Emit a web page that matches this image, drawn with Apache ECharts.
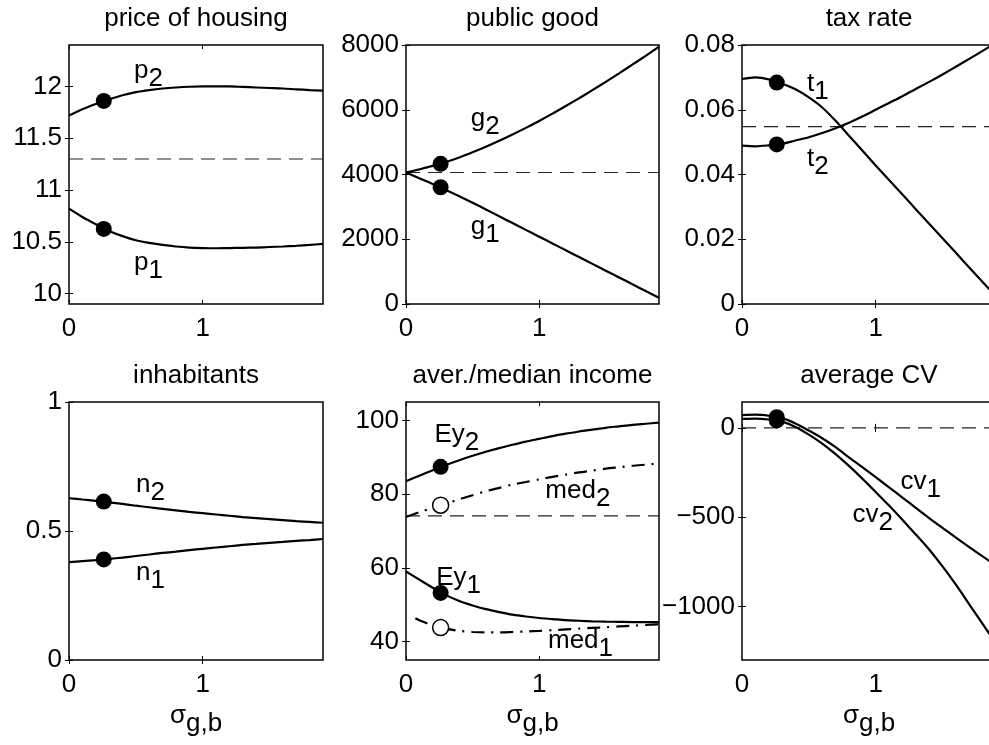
<!DOCTYPE html>
<html>
<head>
<meta charset="utf-8">
<script src="https://cdn.jsdelivr.net/npm/echarts@6/dist/echarts.min.js"></script>
<style>
  html, body { margin: 0; padding: 0; background: #fff; }
  #chart { width: 989px; height: 745px; }
</style>
</head>
<body>
<div id="chart"></div>
<script>
// Sampling points of sigma_{g,b}
const sigma = [0, 0.1, 0.2, 0.3, 0.4, 0.5, 0.6, 0.7, 0.8, 0.9, 1.0, 1.1, 1.2, 1.3, 1.4, 1.5, 1.6, 1.7, 1.8, 1.9];
const sigmaMed1 = [0.07, 0.1, 0.2, 0.3, 0.4, 0.5, 0.6, 0.7, 0.8, 0.9, 1.0, 1.1, 1.2, 1.3, 1.4, 1.5, 1.6, 1.7, 1.8, 1.9];
const sigmaDot = 0.26;

// price of housing
const p2 = [11.72, 11.78, 11.83, 11.875, 11.915, 11.945, 11.965, 11.98, 11.99, 11.997, 12.0, 12.0, 12.0, 11.995, 11.99, 11.985, 11.98, 11.972, 11.965, 11.96];
const p1 = [10.82, 10.74, 10.67, 10.605, 10.555, 10.515, 10.49, 10.47, 10.455, 10.445, 10.44, 10.438, 10.44, 10.442, 10.445, 10.45, 10.455, 10.462, 10.47, 10.48];
const pDots = [11.86, 10.625];
const pRef = 11.3;

// public good
const g2 = [4060, 4160, 4265, 4385, 4525, 4685, 4855, 5040, 5235, 5440, 5655, 5880, 6115, 6355, 6605, 6860, 7125, 7395, 7665, 7945];
const g1 = [4060, 3885, 3710, 3525, 3330, 3127, 2920, 2710, 2500, 2290, 2080, 1870, 1660, 1450, 1240, 1030, 820, 610, 400, 190];
const gDots = [4330, 3607];
const gRef = 4060;

// tax rate
const t1 = [0.0695, 0.0700, 0.0694, 0.0680, 0.0663, 0.0638, 0.0607, 0.0566, 0.0520, 0.0474, 0.0428, 0.0383, 0.0338, 0.0293, 0.0248, 0.0203, 0.0158, 0.0113, 0.0068, 0.0024];
const t2 = [0.0489, 0.0487, 0.0490, 0.0495, 0.0505, 0.0515, 0.0528, 0.0543, 0.0560, 0.0579, 0.0600, 0.0621, 0.0642, 0.0664, 0.0686, 0.0709, 0.0733, 0.0757, 0.0782, 0.0807];
const tDots = [0.0684, 0.0493];
const tRef = 0.0548;

// inhabitants
const n2 = [0.627, 0.622, 0.617, 0.611, 0.605, 0.598, 0.592, 0.586, 0.580, 0.574, 0.569, 0.564, 0.559, 0.554, 0.550, 0.546, 0.542, 0.538, 0.535, 0.532];
const n1 = [0.379, 0.383, 0.387, 0.392, 0.397, 0.403, 0.409, 0.415, 0.420, 0.426, 0.431, 0.436, 0.441, 0.446, 0.450, 0.454, 0.458, 0.462, 0.465, 0.469];
const nDots = [0.614, 0.390];

// average / median income
const ey2 = [83.5, 85.0, 86.5, 87.9, 89.2, 90.4, 91.5, 92.5, 93.4, 94.25, 95.0, 95.75, 96.4, 97.0, 97.5, 98.0, 98.4, 98.8, 99.1, 99.4];
const ey1 = [59.0, 56.8, 54.6, 52.6, 51.0, 49.8, 48.8, 48.0, 47.3, 46.8, 46.4, 46.1, 45.8, 45.65, 45.5, 45.4, 45.35, 45.3, 45.3, 45.3];
const med2 = [73.8, 75.1, 76.3, 77.4, 78.6, 79.7, 80.8, 81.7, 82.6, 83.3, 84.0, 84.7, 85.3, 85.9, 86.4, 86.9, 87.3, 87.7, 88.0, 88.3];
const med1 = [46.3, 45.8, 44.4, 43.5, 42.9, 42.6, 42.5, 42.5, 42.6, 42.75, 42.9, 43.1, 43.3, 43.5, 43.7, 43.9, 44.1, 44.3, 44.5, 44.7];
const eyDots = [87.4, 53.2];
const medDots = [77.0, 43.8];
const incomeRef = 74.1;

// average CV
const cv1 = [72, 74, 68, 55, 25, -15, -58, -108, -165, -220, -276, -333, -390, -448, -505, -560, -615, -668, -720, -770];
const cv2 = [50, 52, 47, 35, 5, -38, -88, -147, -213, -284, -359, -435, -515, -597, -681, -776, -878, -988, -1098, -1208];
const cvDots = [60, 42];
const cvRef = 0;

// axis ranges and tick values
const xRange = [0, 1.9];
const xTicks = [0, 1];
const pRange = [9.9, 12.4];   const pTicks = [10, 10.5, 11, 11.5, 12];
const gRange = [0, 8000];     const gTicks = [0, 2000, 4000, 6000, 8000];
const tRange = [0, 0.08];     const tTicks = [0, 0.02, 0.04, 0.06, 0.08];
const nRange = [0, 1];        const nTicks = [0, 0.5, 1];
const incRange = [35, 105];   const incTicks = [40, 60, 80, 100];
const cvRange = [-1300, 145]; const cvTicks = [-1000, -500, 0];

const titles = ['price of housing', 'public good', 'tax rate', 'inhabitants', 'aver./median income', 'average CV'];

// curve labels: [x, y, letter, subscript]
const labelsP = [[0.49, 12.27, 'p', '2'], [0.49, 10.42, 'p', '1']];
const labelsG = [[0.49, 6110, 'g', '2'], [0.49, 2760, 'g', '1']];
const labelsT = [[0.49, 0.0720, 't', '1'], [0.49, 0.0486, 't', '2']];
const labelsN = [[0.505, 0.728, 'n', '2'], [0.505, 0.385, 'n', '1']];
const labelsInc = [[0.218, 99.5, 'Ey', '2'], [0.23, 60.6, 'Ey', '1'], [1.05, 84.3, 'med', '2'], [1.07, 43.5, 'med', '1']];
const labelsCv = [[1.19, -233, 'cv', '1'], [0.83, -417, 'cv', '2']];

// ---- layout / style ----
const FONT = 'Liberation Sans, Arial, Helvetica, sans-serif';
const FS = 26;
const SUB = 8;  // subscript drop in px
const gridBoxes = [
  { left: 69, top: 45, width: 254, height: 259 },
  { left: 406, top: 45, width: 253, height: 259 },
  { left: 742, top: 45, width: 254, height: 259 },
  { left: 69, top: 402, width: 254, height: 258 },
  { left: 406, top: 402, width: 253, height: 258 },
  { left: 742, top: 402, width: 254, height: 258 }
];
const subRich = {
  m: { fontSize: FS, fontFamily: FONT, color: '#000', padding: [0, 0, SUB, 0] },
  s: { fontSize: FS, fontFamily: FONT, color: '#000', padding: [SUB, 0, 0, 0] }
};

const zip = (xs, ys) => xs.map((x, i) => [x, ys[i]]);
const fmt = v => String(v).replace('-', '\u2212');

const grids = [], xAxes = [], yAxes = [], series = [], titleList = [];

function addPanel(i, yRange, yTicks) {
  const b = gridBoxes[i];
  grids.push(Object.assign({ show: true, borderColor: '#000', borderWidth: 1.5,
    backgroundColor: 'transparent', containLabel: false, outerBoundsMode: 'none' }, b));
  titleList.push({
    text: titles[i], left: b.left + b.width / 2, textAlign: 'center',
    top: i < 3 ? 6 : 363, padding: 0,
    textStyle: { fontSize: FS, fontWeight: 'normal', fontFamily: FONT, color: '#000' }
  });
  const tick = { show: true, inside: true, length: 4, lineStyle: { color: '#000', width: 1 } };
  const bottomRow = i >= 3;
  xAxes.push({
    type: 'value', gridIndex: i, min: xRange[0], max: xRange[1], position: 'bottom',
    axisLine: { show: false }, splitLine: { show: false },
    axisTick: Object.assign({ customValues: xTicks }, tick),
    axisLabel: { customValues: xTicks, fontSize: FS, fontFamily: FONT, color: '#000', margin: 12 },
    name: bottomRow ? '{m|σ}{s|g,b}' : '', nameLocation: 'middle', nameGap: 43,
    nameTextStyle: { fontSize: FS, fontFamily: FONT, color: '#000', rich: subRich }
  });
  xAxes.push({
    type: 'value', gridIndex: i, min: xRange[0], max: xRange[1], position: 'top',
    axisLine: { show: false }, splitLine: { show: false },
    axisTick: Object.assign({ customValues: xTicks }, tick), axisLabel: { show: false }
  });
  yAxes.push({
    type: 'value', gridIndex: i, min: yRange[0], max: yRange[1], position: 'left',
    axisLine: { show: false }, splitLine: { show: false },
    axisTick: Object.assign({ customValues: yTicks }, tick),
    axisLabel: { customValues: yTicks, formatter: fmt, fontSize: FS, fontFamily: FONT, color: '#000', margin: 7 }
  });
  yAxes.push({
    type: 'value', gridIndex: i, min: yRange[0], max: yRange[1], position: 'right',
    axisLine: { show: false }, splitLine: { show: false },
    axisTick: Object.assign({ customValues: yTicks }, tick), axisLabel: { show: false }
  });
  return { xAxisIndex: 2 * i, yAxisIndex: 2 * i };
}

function curve(ax, xs, ys, dashed) {
  series.push(Object.assign({
    type: 'line', data: zip(xs, ys), showSymbol: false, smooth: 0.3, silent: true,
    lineStyle: { color: '#000', width: 2.2, opacity: 1, type: dashed ? [13, 7, 2, 7] : 'solid' },
    z: 3
  }, ax));
}
function refLine(ax, v) {
  series.push(Object.assign({
    type: 'line', data: [[xRange[0], v], [xRange[1], v]], showSymbol: false, silent: true,
    lineStyle: { color: '#222', width: 1.1, opacity: 1, type: [14, 8] }, z: 2
  }, ax));
}
function dots(ax, vals, open) {
  series.push(Object.assign({
    type: 'scatter', data: vals.map(v => [sigmaDot, v]), symbol: 'circle', symbolSize: 16, silent: true,
    itemStyle: open ? { color: '#fff', borderColor: '#000', borderWidth: 1.5, opacity: 1 }
                    : { color: '#000', opacity: 1 },
    z: 5
  }, ax));
}
function labels(ax, items) {
  series.push(Object.assign({
    type: 'scatter', data: items, symbolSize: 1, silent: true,
    itemStyle: { color: 'rgba(0,0,0,0)', opacity: 1 },
    label: {
      show: true, position: [0, 0], align: 'left', verticalAlign: 'top', opacity: 1,
      formatter: p => '{m|' + p.data[2] + '}{s|' + p.data[3] + '}',
      rich: subRich
    },
    z: 6
  }, ax));
}

let ax;
ax = addPanel(0, pRange, pTicks);
refLine(ax, pRef); curve(ax, sigma, p2); curve(ax, sigma, p1); dots(ax, pDots); labels(ax, labelsP);

ax = addPanel(1, gRange, gTicks);
refLine(ax, gRef); curve(ax, sigma, g2); curve(ax, sigma, g1); dots(ax, gDots); labels(ax, labelsG);

ax = addPanel(2, tRange, tTicks);
refLine(ax, tRef); curve(ax, sigma, t1); curve(ax, sigma, t2); dots(ax, tDots); labels(ax, labelsT);

ax = addPanel(3, nRange, nTicks);
curve(ax, sigma, n2); curve(ax, sigma, n1); dots(ax, nDots); labels(ax, labelsN);

ax = addPanel(4, incRange, incTicks);
refLine(ax, incomeRef);
curve(ax, sigma, ey2); curve(ax, sigma, ey1);
curve(ax, sigma, med2, true); curve(ax, sigmaMed1, med1, true);
dots(ax, eyDots); dots(ax, medDots, true); labels(ax, labelsInc);

ax = addPanel(5, cvRange, cvTicks);
refLine(ax, cvRef); curve(ax, sigma, cv1); curve(ax, sigma, cv2); dots(ax, cvDots); labels(ax, labelsCv);

const chart = echarts.init(document.getElementById('chart'), null, { renderer: 'canvas' });
chart.setOption({
  animation: false,
  backgroundColor: '#fff',
  title: titleList,
  grid: grids,
  xAxis: xAxes,
  yAxis: yAxes,
  series: series
});
</script>
</body>
</html>
